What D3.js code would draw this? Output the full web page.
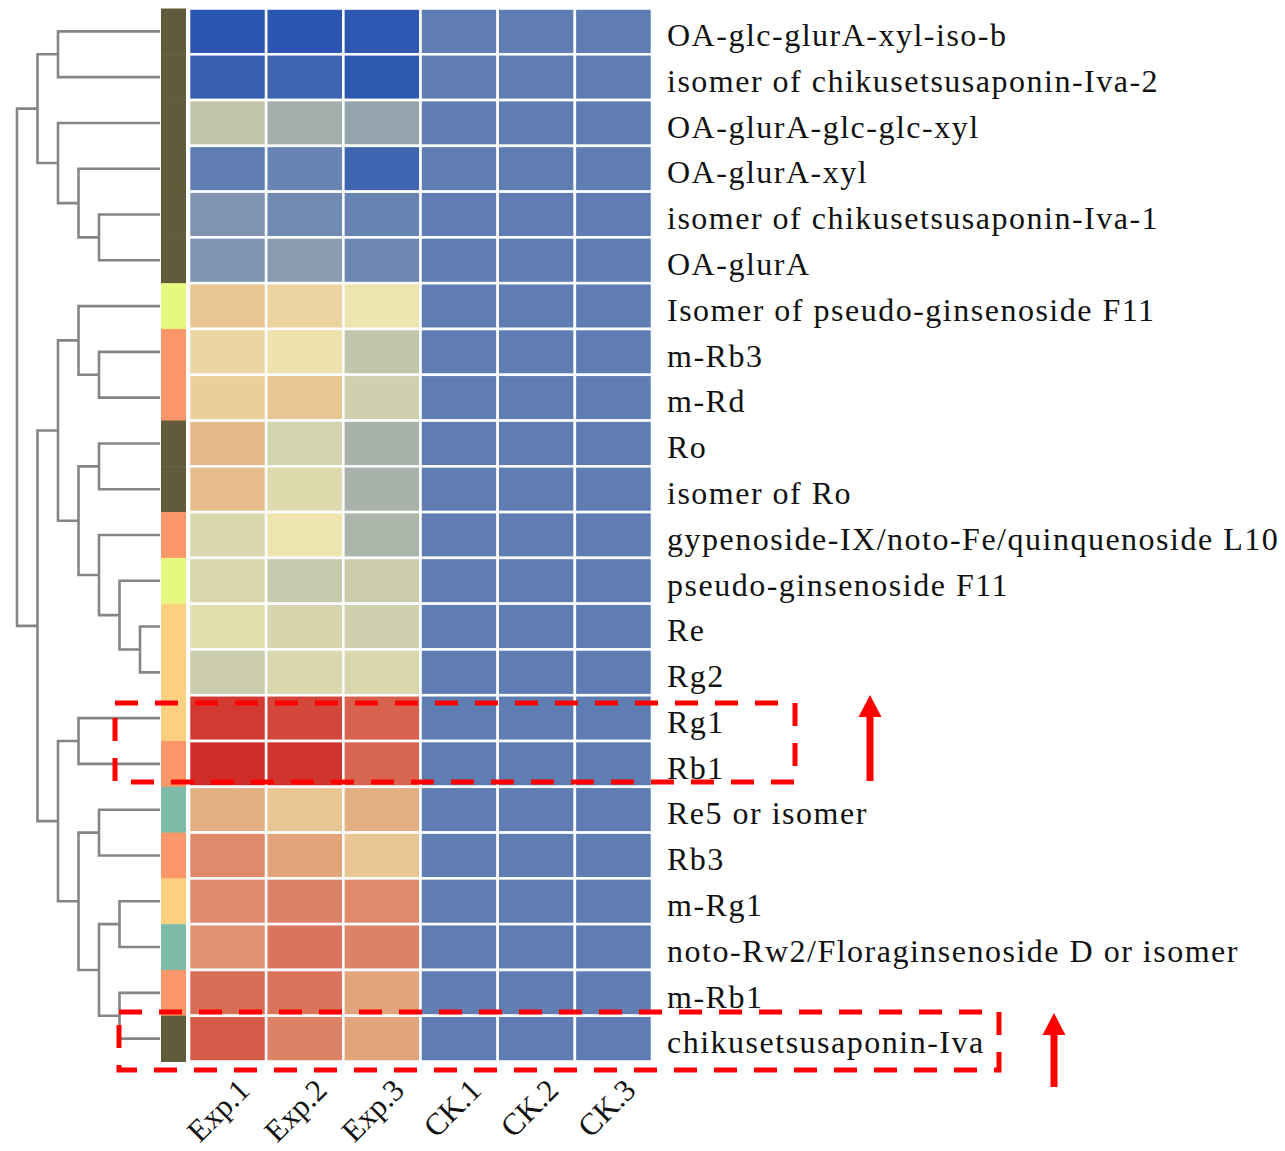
<!DOCTYPE html>
<html>
<head>
<meta charset="utf-8">
<script src="https://cdnjs.cloudflare.com/ajax/libs/d3/7.8.5/d3.min.js"></script>
<style>
  body { margin: 0; background: #fff; }
  svg { display: block; }
</style>
</head>
<body>
<div id="chart"></div>
<script>
// row names (top to bottom, as clustered)
var compounds = [
    "OA-glc-glurA-xyl-iso-b",
    "isomer of chikusetsusaponin-Iva-2",
    "OA-glurA-glc-glc-xyl",
    "OA-glurA-xyl",
    "isomer of chikusetsusaponin-Iva-1",
    "OA-glurA",
    "Isomer of pseudo-ginsenoside F11",
    "m-Rb3",
    "m-Rd",
    "Ro",
    "isomer of Ro",
    "gypenoside-IX/noto-Fe/quinquenoside L10",
    "pseudo-ginsenoside F11",
    "Re",
    "Rg2",
    "Rg1",
    "Rb1",
    "Re5 or isomer",
    "Rb3",
    "m-Rg1",
    "noto-Rw2/Floraginsenoside D or isomer",
    "m-Rb1",
    "chikusetsusaponin-Iva"
];

var samples = ["Exp.1", "Exp.2", "Exp.3", "CK.1", "CK.2", "CK.3"];

// relative level per sample (0 = lowest / deep blue, 10 = highest / red)
var exp1 = [0, 0.5, 4.6, 2.0, 2.7, 2.7, 7.0, 6.5, 6.7, 7.3, 7.2, 5.2, 5.2, 5.6, 4.8, 9.7, 10, 7.5, 8.1, 8.1, 8.0, 8.5, 9.0];
var exp2 = [0, 0.8, 3.8, 2.2, 2.4, 2.9, 6.6, 6.1, 7.0, 5.0, 5.4, 6.0, 4.7, 5.1, 5.2, 9.4, 9.8, 7.0, 7.7, 8.2, 8.4, 8.4, 8.2];
var exp3 = [0.1, 0.2, 3.3, 0.8, 2.2, 2.3, 6.0, 4.6, 4.9, 4.0, 4.0, 4.1, 4.8, 4.9, 5.2, 8.8, 8.7, 7.5, 7.0, 8.1, 8.2, 7.7, 7.7];
var ck1 = [2, 2, 2, 2, 2, 2, 2, 2, 2, 2, 2, 2, 2, 2, 2, 2, 2, 2, 2, 2, 2, 2, 2];
var ck2 = [2, 2, 2, 2, 2, 2, 2, 2, 2, 2, 2, 2, 2, 2, 2, 2, 2, 2, 2, 2, 2, 2, 2];
var ck3 = [2, 2, 2, 2, 2, 2, 2, 2, 2, 2, 2, 2, 2, 2, 2, 2, 2, 2, 2, 2, 2, 2, 2];

// row annotation group for each compound
var rowGroup = [0, 0, 0, 0, 0, 0, 1, 2, 2, 0, 0, 2, 1, 3, 3, 3, 2, 4, 2, 3, 4, 2, 0];

// row clustering tree (leaves are row indices)
var rowTree = [
    [[0, 1], [2, [3, [4, 5]]]],
    [
        [[6, [7, 8]], [[9, 10], [11, [12, [13, 14]]]]],
        [[15, 16], [[17, 18], [[19, 20], [21, 22]]]]
    ]
];

// highlighted row ranges
var highlights = [[15, 16], [22, 22]];

// ---- styles ----
var groupColors = ["#605b3a", "#e6f87f", "#fb9668", "#fcd07f", "#7dbba9"];
var colorStops = [0, 2, 3, 4, 5, 6, 7, 7.5, 8, 8.5, 9, 10];
var colorRange = ["#2a55b0", "#5f7db3", "#8d9eae", "#a8b2aa", "#d3d3ad", "#eee5ae",
                  "#e9c593", "#e3b083", "#e0916f", "#d96e56", "#d65a48", "#cf2b27"];

var svgWidth = 1285;
var svgHeight = 1151;

var svg = d3.select("#chart")
    .append("svg")
    .attr("width", svgWidth)
    .attr("height", svgHeight);

var seriesValues = [exp1, exp2, exp3, ck1, ck2, ck3];

var cells = [];
compounds.forEach(function (name, i) {
    samples.forEach(function (s, j) {
        cells.push({ row: i, col: s, value: seriesValues[j][i] });
    });
});

// scales
var yScale = d3.scaleBand()
    .domain(d3.range(compounds.length))
    .range([8.5, 1061.5]);

var xScale = d3.scaleBand()
    .domain(samples)
    .range([189, 652]);

var colorScale = d3.scaleLinear()
    .domain(colorStops)
    .range(colorRange)
    .interpolate(d3.interpolateRgb);

var depthScale = d3.scaleLinear()
    .domain([0, 1])
    .range([17, 37.5]);

var leafX = 160;

// heatmap cells
svg.append("g")
    .selectAll("rect")
    .data(cells)
    .enter()
    .append("rect")
    .attr("x", d => xScale(d.col))
    .attr("y", d => yScale(d.row))
    .attr("width", xScale.bandwidth())
    .attr("height", yScale.bandwidth())
    .attr("fill", d => colorScale(d.value))
    .attr("stroke", "#fbfcfd")
    .attr("stroke-width", 2.6);

// row annotation bar
svg.append("g")
    .selectAll("rect")
    .data(rowGroup)
    .enter()
    .append("rect")
    .attr("x", 161)
    .attr("y", (d, i) => yScale(i))
    .attr("width", 25)
    .attr("height", yScale.bandwidth() + 0.5)
    .attr("fill", d => groupColors[d]);

// dendrogram
var root = d3.hierarchy(rowTree, d => Array.isArray(d) ? d : null);

function placeNode(node) {
    if (!node.children) {
        node.px = leafX;
        node.py = yScale(node.data) + yScale.bandwidth() / 2;
    } else {
        node.children.forEach(placeNode);
        node.px = depthScale(node.depth);
        node.py = d3.mean(node.children, c => c.py);
    }
}
placeNode(root);

var dendro = svg.append("g")
    .attr("fill", "none")
    .attr("stroke", "#858585")
    .attr("stroke-width", 2.6);

dendro.selectAll("path")
    .data(root.descendants().filter(d => d.children))
    .enter()
    .append("path")
    .attr("d", function (d) {
        var a = d.children[0];
        var b = d.children[1];
        return "M" + a.px + "," + a.py +
            "H" + d.px +
            "V" + b.py +
            "H" + b.px;
    });

// row labels
var rowAxis = d3.axisRight(d3.scaleBand()
        .domain(compounds)
        .range(yScale.range()))
    .tickSize(0)
    .tickPadding(15);

var rowAxisG = svg.append("g")
    .attr("transform", "translate(652,0)")
    .call(rowAxis);

rowAxisG.select(".domain").remove();
rowAxisG.selectAll("text")
    .attr("dy", "0.46em")
    .attr("font-family", "'Liberation Serif', 'Times New Roman', serif")
    .attr("font-size", "32px")
    .attr("letter-spacing", "1.5px")
    .attr("fill", "#111");

// column labels
var colAxis = d3.axisBottom(xScale)
    .tickSize(0);

var colAxisG = svg.append("g")
    .attr("transform", "translate(0,1061)")
    .call(colAxis);

colAxisG.select(".domain").remove();
colAxisG.selectAll("text")
    .attr("x", 0)
    .attr("y", 0)
    .attr("dy", 0)
    .attr("transform", "translate(24,31) rotate(-45)")
    .style("text-anchor", "end")
    .attr("font-family", "'Liberation Serif', 'Times New Roman', serif")
    .attr("font-size", "31px")
    .attr("fill", "#111");

// red dashed highlight boxes
var boxRight = [795, 999];
var boxLeft = [115, 119];
var boxTopOffset = [7.8, -3.7];
var boxBottomOffset = [-4.8, 8.5];

svg.append("g")
    .selectAll("rect")
    .data(highlights)
    .enter()
    .append("rect")
    .attr("x", (d, i) => boxLeft[i])
    .attr("y", (d, i) => yScale(d[0]) + boxTopOffset[i])
    .attr("width", (d, i) => boxRight[i] - boxLeft[i])
    .attr("height", (d, i) => yScale(d[1]) + yScale.bandwidth() + boxBottomOffset[i] - yScale(d[0]) - boxTopOffset[i])
    .attr("fill", "none")
    .attr("stroke", "#ff0000")
    .attr("stroke-width", 5)
    .attr("stroke-dasharray", "23 17");

// up arrows next to the boxes
var arrowX = [870, 1054];
var arrowTop = [695, 1013];
var arrowBottom = [781, 1087];

svg.append("g")
    .selectAll("path")
    .data(highlights)
    .enter()
    .append("path")
    .attr("d", function (d, i) {
        var x = arrowX[i];
        var t = arrowTop[i];
        var b = arrowBottom[i];
        var h = 22;
        return "M" + x + "," + t +
            "L" + (x + 11.5) + "," + (t + h) +
            "L" + (x + 3.5) + "," + (t + h) +
            "L" + (x + 3.5) + "," + b +
            "L" + (x - 3.5) + "," + b +
            "L" + (x - 3.5) + "," + (t + h) +
            "L" + (x - 11.5) + "," + (t + h) + "Z";
    })
    .attr("fill", "#ff0000");
</script>
</body>
</html>
